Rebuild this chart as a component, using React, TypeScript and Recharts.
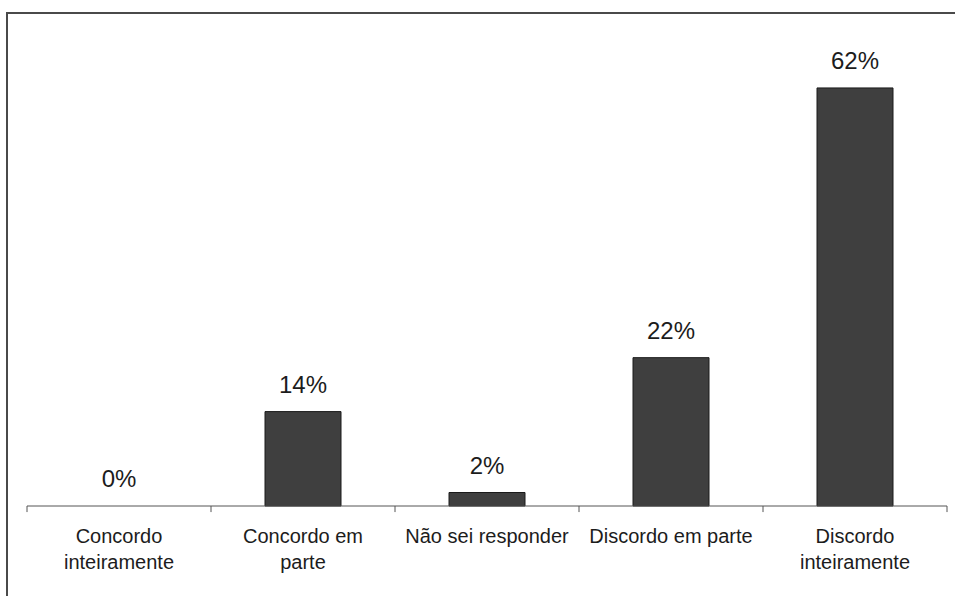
import { ComposedChart, Bar, Line, XAxis, YAxis, LabelList, ReferenceLine } from "recharts";

type Row = {
  pos: number;
  answer: string;
  share: number;
};

// survey answers, in the order they appear along the axis
const ANSWERS = [
  "Concordo inteiramente",
  "Concordo em parte",
  "Não sei responder",
  "Discordo em parte",
  "Discordo inteiramente",
];
const SHARES = [0, 14, 2, 22, 62];
// how each answer wraps under the axis
const TICK_LINES = [
  ["Concordo", "inteiramente"],
  ["Concordo em", "parte"],
  ["Não sei responder"],
  ["Discordo em parte"],
  ["Discordo", "inteiramente"],
];
// category boundaries where the small tick marks sit
const EDGE_TICKS = [0, 1, 2, 3, 4, 5];

const data: Row[] = ANSWERS.map((answer, i) => ({ pos: i, answer, share: SHARES[i] }));

const FONT = "'Liberation Sans', Arial, sans-serif";
const INK = "#1c1c1c";
const RULE = "#555";

function AnswerTick(props: any) {
  const { x, y, index } = props;
  const lines = TICK_LINES[index] ?? [];
  return (
    <text x={x} y={y} textAnchor="middle" fontFamily={FONT} fontSize={20} fill={INK}>
      {lines.map((line, i) => (
        <tspan key={i} x={x} dy={i === 0 ? 29 : 26}>
          {line}
        </tspan>
      ))}
    </text>
  );
}

export default function App() {
  return (
    <div style={{ position: "fixed", left: 0, top: 0, width: 955, height: 596, background: "#fff" }}>
      {/* frame: only the top and left edges fall inside the page */}
      <svg width={955} height={596} style={{ position: "absolute", left: 0, top: 0 }}>
        <path d="M7 596 V13 H955" fill="none" stroke="#4a4a4a" strokeWidth={2} />
      </svg>
      <ComposedChart
        width={955}
        height={596}
        data={data}
        margin={{ top: 34, right: 8, bottom: 0, left: 27 }}
        style={{ position: "absolute", left: 0, top: 0 }}
      >
        <XAxis
          xAxisId="cat"
          dataKey="answer"
          interval={0}
          height={90}
          tickLine={false}
          axisLine={{ stroke: RULE }}
          tick={<AnswerTick />}
        />
        <XAxis xAxisId="edges" type="number" dataKey="pos" domain={[0, 5]} hide />
        <YAxis hide domain={[0, 70]} />
        {EDGE_TICKS.map((t) => (
          <ReferenceLine
            key={t}
            xAxisId="edges"
            segment={[
              { x: t, y: 0 },
              { x: t, y: -0.9 },
            ]}
            stroke={RULE}
            ifOverflow="visible"
          />
        ))}
        <Bar xAxisId="cat" dataKey="share" barSize={76} fill="#3f3f3f" stroke="#1a1a1a" strokeWidth={1} isAnimationActive={false} />
        {/* invisible series that carries the percentage labels, including the 0% one */}
        <Line
          xAxisId="cat"
          dataKey="share"
          stroke="none"
          dot={false}
          activeDot={false}
          legendType="none"
          isAnimationActive={false}
        >
          <LabelList
            dataKey="share"
            position="top"
            offset={19}
            formatter={(v: any) => `${v}%`}
            style={{ fontFamily: FONT, fontSize: 24, fill: INK }}
          />
        </Line>
      </ComposedChart>
    </div>
  );
}
